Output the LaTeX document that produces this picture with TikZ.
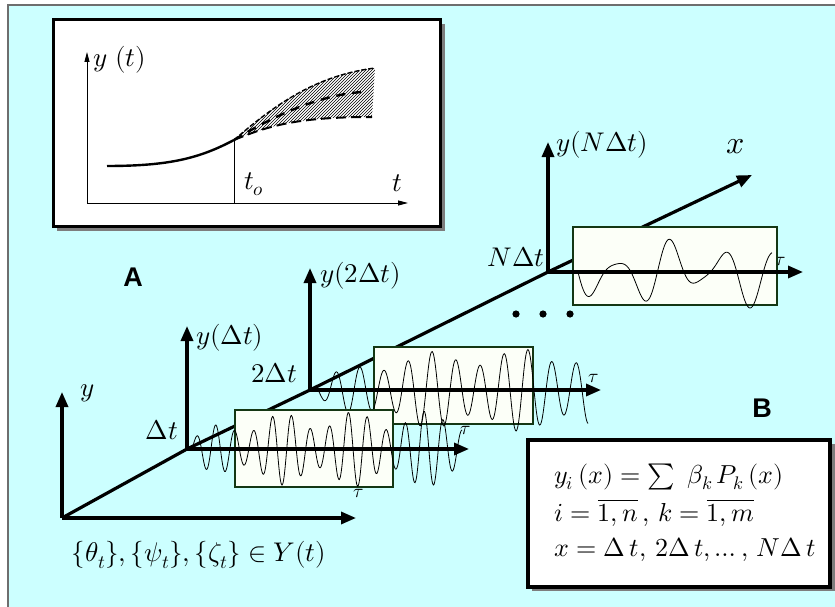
\documentclass[tikz,border=0pt]{standalone}
\usepackage{amsmath,amssymb}
\usepackage{fontspec}
\usepackage{unicode-math}
\usepackage{tikz}
\usetikzlibrary{arrows.meta, patterns, positioning, calc}
\newfontfamily\letterfont{Liberation Sans}
\definecolor{SkyBack}{RGB}{204,255,255}
\definecolor{FrameGray}{RGB}{110,110,110}
\definecolor{ShadowGray}{RGB}{125,125,125}
\definecolor{BoxFill}{RGB}{252,255,248}
\definecolor{BoxEdge}{RGB}{20,55,20}

\begin{document}
\begin{tikzpicture}[x=1pt,y=-1pt,
    axis/.style={line width=3.2pt,-{Triangle[length=15pt,width=12pt]}},
    thinaxis/.style={line width=1pt,-{Triangle[length=10pt,width=5pt]}},
    wavebox/.style={draw=BoxEdge,line width=1.8pt,fill=BoxFill},
    wave/.style={line width=0.8pt,smooth},
    lbl/.style={font=\fontsize{27}{30}\selectfont,inner sep=0pt},
    taulbl/.style={font=\fontsize{19}{21}\selectfont,inner sep=0pt},
    panel/.style={font=\letterfont\bfseries\fontsize{27}{29}\selectfont,inner sep=0pt}]
  \useasboundingbox (0,0) rectangle (835,607);
  \fill[white] (0,0) rectangle (835,607);
  \fill[SkyBack] (8,5) rectangle (835,607);
  \draw[FrameGray,line width=1.2pt] (8,607) -- (8,5) -- (835,5);

  % Inset A: trajectory with uncertainty band
  \fill[ShadowGray] (57,24) rectangle (445,231);
  \draw[line width=3pt,fill=white] (53,20) rectangle (440,226);
  \coordinate (a0) at (87,203);
  \coordinate (ay) at (87,52);
  \coordinate (at) at (408,203);
  \coordinate (ts) at (234,140);
  \draw[thinaxis] (a0) -- (ay);
  \draw[thinaxis] (a0) -- (at);
  \draw[line width=0.8pt] (234,203) -- (ts);
  \fill[pattern=north east lines] (ts) .. controls (280,100) and (320,75) .. (375,68)
    -- (372,117) .. controls (300,117) and (270,125) .. (ts);
  \draw[line width=2.4pt] (107,166) .. controls (170,166) and (200,158) .. (ts);
  \draw[line width=1.4pt,dash pattern=on 5pt off 2pt] (ts) .. controls (280,100) and (320,75) .. (375,68);
  \draw[line width=2.4pt,dash pattern=on 9pt off 7pt] (ts) .. controls (275,115) and (320,95) .. (362,92);
  \draw[line width=2pt,dash pattern=on 10pt off 5pt] (ts) .. controls (270,125) and (300,117) .. (372,117);
  \node[lbl,anchor=west] (lyt) at (93,60) {$y\ (t)$};
  \node[lbl] (lt) at (397,183) {$t$};
  \node[lbl] (lto) at (254,184) {$t_{o}$};

  \node[panel] (pA) at (133,277) {A};
  \node[panel] (pB) at (762,408) {B};

  % Main axes and the x direction
  \coordinate (O) at (62,518);
  \coordinate (D1) at (187,449);
  \coordinate (D2) at (310,390);
  \coordinate (DN) at (548,272);
  \coordinate (Xtip) at (752,175);
  \draw[axis] (O) -- (D1) -- (D2) -- (DN) -- (Xtip);
  \draw[axis] (O) -- (62,392) coordinate (Oy);
  \draw[axis] (O) -- (356,518) coordinate (Ot);
  \node[lbl,anchor=west] (ly) at (80,393) {$y$};
  \node[taulbl] (tau0) at (359,494) {$\tau$};
  \node[lbl,font=\fontsize{32}{34}\selectfont] (lx) at (736,147) {$x$};

  % Section 2 dt
  \draw[wavebox] (374,347) rectangle (533,424);
  \draw[wave] plot[domain=318:588,samples=320]
    (\x,{390+(8+34*(1-exp(-(\x-318)/50)))*(0.8+0.2*sin(4*(\x-318)))*sin(15*(\x-318))});
  \draw[axis] (D2) -- (601,390) coordinate (D2t);
  \node[taulbl] (tau2) at (594,379) {$\tau$};

  % Section dt
  \draw[wavebox] (235,410) rectangle (393,487);
  \draw[wave] plot[domain=192:462,samples=340]
    (\x,{449-(12+26*(1-exp(-(\x-192)/35)))*(0.75+0.25*sin(5*(\x-192)))*sin(19*(\x-192))});
  \draw[axis] (D1) -- (469,449) coordinate (D1t);
  \node[taulbl] (tau1) at (466,431) {$\tau$};

  % Section N dt
  \node[taulbl] (tauN) at (781,262) {$\tau$};
  \draw[wavebox] (573,227) rectangle (777,305);
  \draw[wave] plot[domain=578:772,samples=260]
    (\x,{272+(22+14*cos(4*(\x-660)))*sin(6.8*(\x-578))});
  \draw[axis] (DN) -- (803,272) coordinate (DNt);

  % Vertical axes of the sections
  \draw[axis] (D1) -- (187,326) coordinate (D1y);
  \draw[axis] (D2) -- (310,268) coordinate (D2y);
  \draw[axis] (DN) -- (548,142) coordinate (DNy);
  \node[lbl,anchor=west] (lyD1) at (196,338) {$y(\Delta t)$};
  \node[lbl,anchor=west] (lyD2) at (320,276) {$y(2\Delta t)$};
  \node[lbl,anchor=west] (lyDN) at (556,145) {$y(N\Delta t)$};
  \node[lbl] (lD1) at (162,430) {$\Delta t$};
  \node[lbl] (lD2) at (274,373) {$2\Delta t$};
  \node[lbl] (lDN) at (516,257) {$N\Delta t$};
  \foreach \x in {516,543,570}{
    \fill (\x,314) circle[radius=3.6pt];}

  % Set of trajectories
  \node[lbl] (sets) at (199,555)
    {$\{\theta_t\}, \{\psi_t\}, \{\zeta_t\} \in Y(t)$};

  % Box B: approximation
  \fill[ShadowGray] (532,444) rectangle (835,591);
  \draw[line width=3.5pt,fill=white] (528,440) rectangle (830,587);
  \node[lbl,font=\fontsize{26}{28}\selectfont,anchor=west] (eq1) at (554,477) {$y_i\,(x) = \textstyle\sum\ \beta_k\,P_k\,(x)$};
  \node[lbl,font=\fontsize{26}{28}\selectfont,anchor=west] (eq2) at (554,513) {$i = \overline{1,n}\,,\, k = \overline{1,m}$};
  \node[lbl,font=\fontsize{26}{28}\selectfont,anchor=west] (eq3) at (554,550) {$x = \Delta\,t,\,2\Delta\,t,\ldots,\,N\Delta\,t$};
\end{tikzpicture}
\end{document}
